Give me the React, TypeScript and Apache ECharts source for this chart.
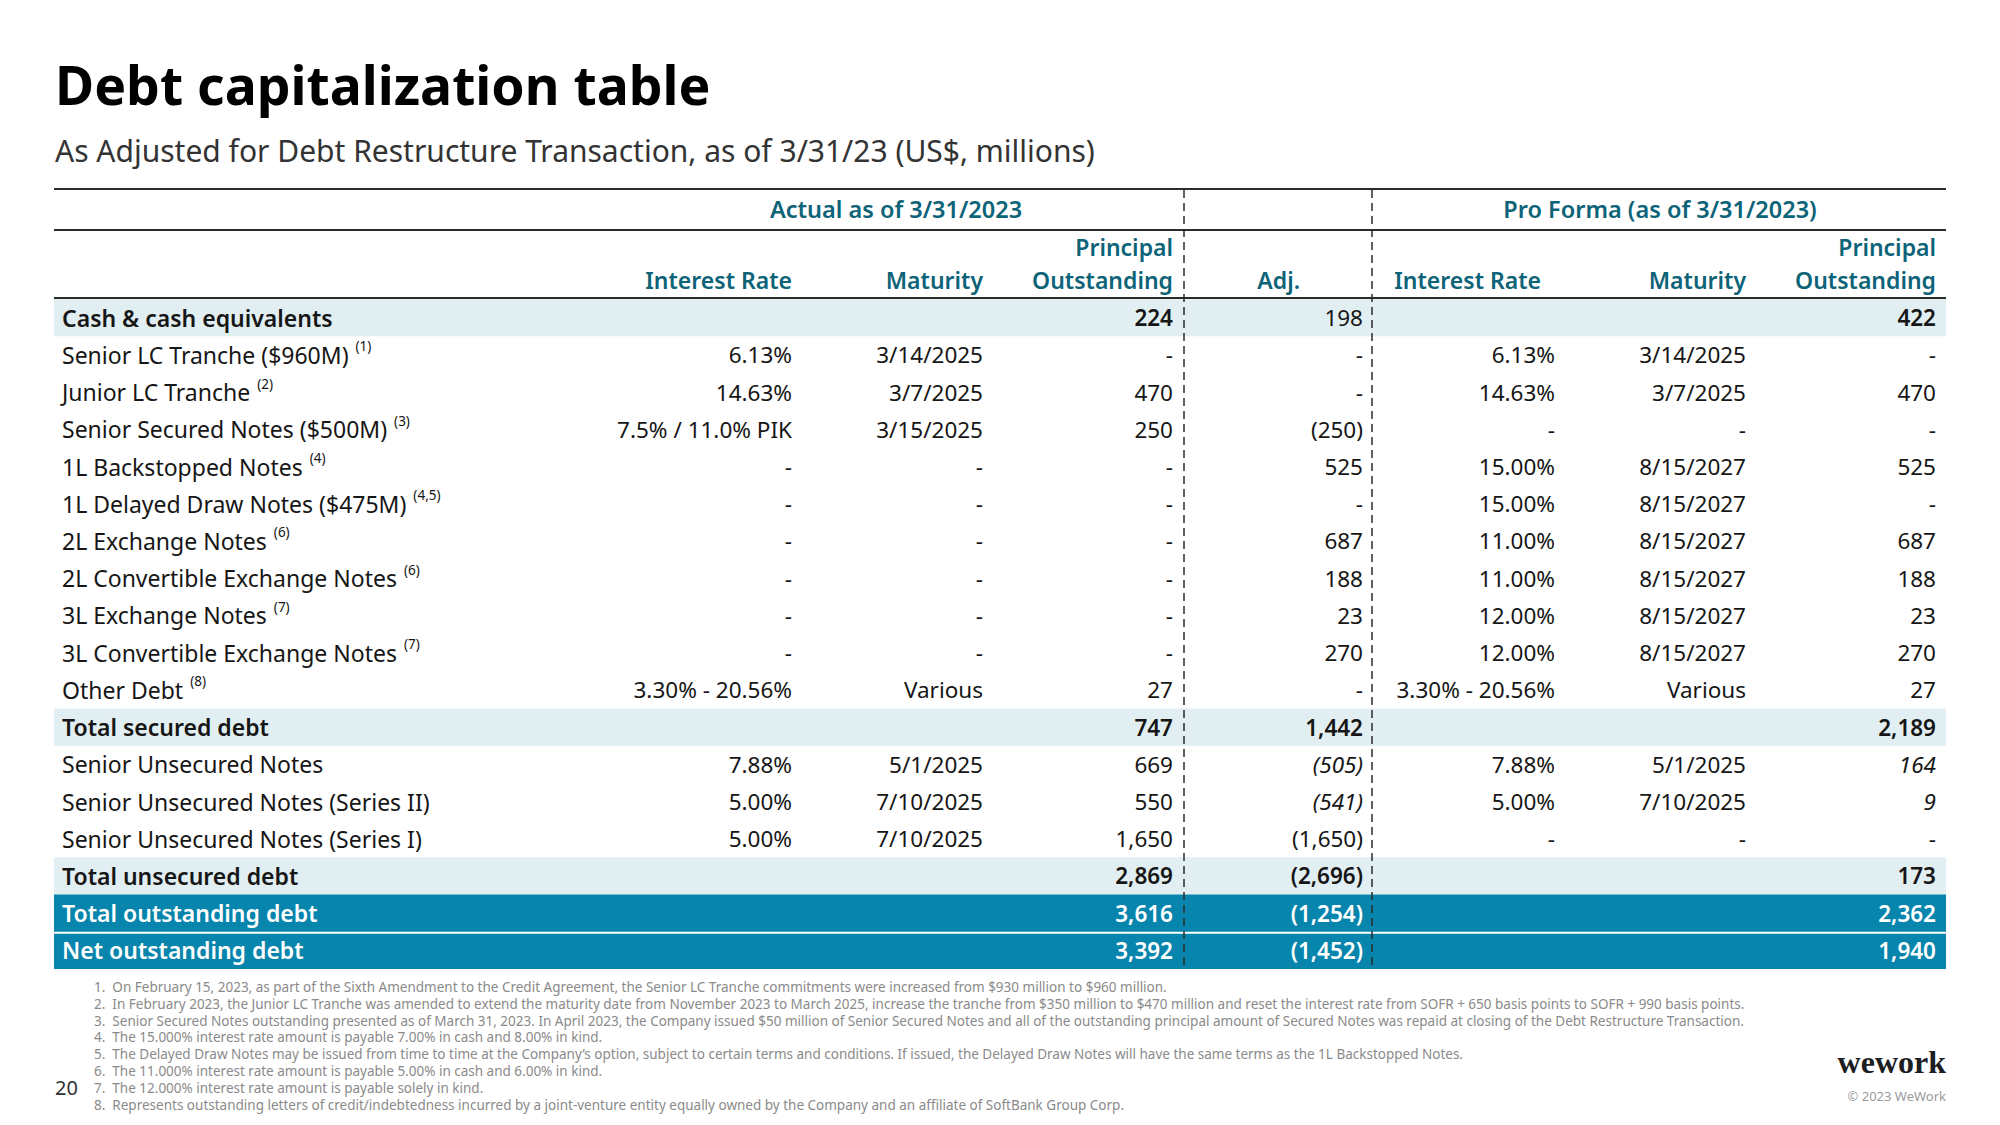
import React, { useEffect, useRef } from "react";
import * as echarts from "echarts";

// ---------------- data ----------------
const titleText = "Debt capitalization table";
const subtitleText = "As Adjusted for Debt Restructure Transaction, as of 3/31/23 (US$, millions)";
const groupHeaders = ["Actual as of 3/31/2023", "Pro Forma (as of 3/31/2023)"];

const rowLabels = [
  "Cash & cash equivalents",
  "Senior LC Tranche ($960M)",
  "Junior LC Tranche",
  "Senior Secured Notes ($500M)",
  "1L Backstopped Notes",
  "1L Delayed Draw Notes ($475M)",
  "2L Exchange Notes",
  "2L Convertible Exchange Notes",
  "3L Exchange Notes",
  "3L Convertible Exchange Notes",
  "Other Debt",
  "Total secured debt",
  "Senior Unsecured Notes",
  "Senior Unsecured Notes (Series II)",
  "Senior Unsecured Notes (Series I)",
  "Total unsecured debt",
  "Total outstanding debt",
  "Net outstanding debt",
];
const rowNotes = ["", "(1)", "(2)", "(3)", "(4)", "(4,5)", "(6)", "(6)", "(7)", "(7)", "(8)", "", "", "", "", "", "", ""];
// sub = subtotal (light band), item = plain row, total = dark band
const rowKinds = ["sub", "item", "item", "item", "item", "item", "item", "item", "item", "item", "item", "sub", "item", "item", "item", "sub", "total", "total"];

const actualRate = ["", "6.13%", "14.63%", "7.5% / 11.0% PIK", "-", "-", "-", "-", "-", "-", "3.30% - 20.56%", "", "7.88%", "5.00%", "5.00%", "", "", ""];
const actualMaturity = ["", "3/14/2025", "3/7/2025", "3/15/2025", "-", "-", "-", "-", "-", "-", "Various", "", "5/1/2025", "7/10/2025", "7/10/2025", "", "", ""];
const actualPrincipal: (number | null)[] = [224, null, 470, 250, null, null, null, null, null, null, 27, 747, 669, 550, 1650, 2869, 3616, 3392];
const adjustment: (number | null)[] = [198, null, null, -250, 525, null, 687, 188, 23, 270, null, 1442, -505, -541, -1650, -2696, -1254, -1452];
const proFormaRate = ["", "6.13%", "14.63%", "-", "15.00%", "15.00%", "11.00%", "11.00%", "12.00%", "12.00%", "3.30% - 20.56%", "", "7.88%", "5.00%", "-", "", "", ""];
const proFormaMaturity = ["", "3/14/2025", "3/7/2025", "-", "8/15/2027", "8/15/2027", "8/15/2027", "8/15/2027", "8/15/2027", "8/15/2027", "Various", "", "5/1/2025", "7/10/2025", "-", "", "", ""];
const proFormaPrincipal: (number | null)[] = [422, null, 470, null, 525, null, 687, 188, 23, 270, 27, 2189, 164, 9, null, 173, 2362, 1940];
const italicRows = [12, 13];

const footnotes = [
  "1.  On February 15, 2023, as part of the Sixth Amendment to the Credit Agreement, the Senior LC Tranche commitments were increased from $930 million to $960 million.",
  "2.  In February 2023, the Junior LC Tranche was amended to extend the maturity date from November 2023 to March 2025, increase the tranche from $350 million to $470 million and reset the interest rate from SOFR + 650 basis points to SOFR + 990 basis points.",
  "3.  Senior Secured Notes outstanding presented as of March 31, 2023. In April 2023, the Company issued $50 million of Senior Secured Notes and all of the outstanding principal amount of Secured Notes was repaid at closing of the Debt Restructure Transaction.",
  "4.  The 15.000% interest rate amount is payable 7.00% in cash and 8.00% in kind.",
  "5.  The Delayed Draw Notes may be issued from time to time at the Company\u2019s option, subject to certain terms and conditions. If issued, the Delayed Draw Notes will have the same terms as the 1L Backstopped Notes.",
  "6.  The 11.000% interest rate amount is payable 5.00% in cash and 6.00% in kind.",
  "7.  The 12.000% interest rate amount is payable solely in kind.",
  "8.  Represents outstanding letters of credit/indebtedness incurred by a joint-venture entity equally owned by the Company and an affiliate of SoftBank Group Corp.",
];
const pageNumber = "20";
const logoText = "wework";
const copyrightText = "\u00a9 2023 WeWork";

// ---------------- layout / style ----------------
const FONT = '"Noto Sans", sans-serif';
const TEAL = "#0d6378";
const DARK = "#0785ad";
const LIGHT = "#e2eff2";
const INK = "#161616";
const RULE = "#2b2b2b";

const TABLE_LEFT = 54;
const TABLE_RIGHT = 1946;
const TABLE_TOP = 299;
const TABLE_BOTTOM = 969;
const DASH_X = [1184, 1372];
const LABEL_SIZE = 23;
const VALUE_SIZE = 22.5;
const HEADER_SIZE = 23;

const fmt = (v: number | null) =>
  v === null ? "-" : v < 0 ? `(${Math.abs(v).toLocaleString("en-US")})` : v.toLocaleString("en-US");

type Col = { key: string; x: number; values: string[]; header: string[]; headerX: number };
const columns: Col[] = [
  { key: "aRate", x: 792, values: actualRate, header: ["", "Interest Rate"], headerX: 792 },
  { key: "aMat", x: 983, values: actualMaturity, header: ["", "Maturity"], headerX: 983 },
  { key: "aPrin", x: 1173, values: actualPrincipal.map(fmt), header: ["Principal", "Outstanding"], headerX: 1173 },
  { key: "adj", x: 1363, values: adjustment.map(fmt), header: ["", "Adj."], headerX: 1300 },
  { key: "pRate", x: 1555, values: proFormaRate, header: ["", "Interest Rate"], headerX: 1541 },
  { key: "pMat", x: 1746, values: proFormaMaturity, header: ["", "Maturity"], headerX: 1746 },
  { key: "pPrin", x: 1936, values: proFormaPrincipal.map(fmt), header: ["Principal", "Outstanding"], headerX: 1936 },
];

function buildOption(): any {
  const graphics: any[] = [];
  // title
  graphics.push({
    type: "text", x: 55, y: 84, z: 100,
    style: { text: titleText, fill: "#000", fontSize: 53.5, fontWeight: 700, fontFamily: FONT, verticalAlign: "middle" },
  });
  graphics.push({
    type: "text", x: 55, y: 150, z: 100,
    style: { text: subtitleText, fill: "#333", fontSize: 30, fontWeight: 400, fontFamily: FONT, verticalAlign: "middle" },
  });
  // rules
  [189, 230, 298].forEach((y) =>
    graphics.push({
      type: "line", z: 100,
      shape: { x1: TABLE_LEFT, y1: y, x2: TABLE_RIGHT, y2: y },
      style: { stroke: RULE, lineWidth: 2 },
    })
  );
  // dashed separators
  DASH_X.forEach((x) =>
    graphics.push({
      type: "line", z: 100,
      shape: { x1: x, y1: 190, x2: x, y2: TABLE_BOTTOM },
      style: { stroke: RULE, lineWidth: 1.5, lineDash: [8, 5] },
    })
  );
  // group headers
  const groupCenters = [896, 1660];
  groupHeaders.forEach((t, k) =>
    graphics.push({
      type: "text", x: groupCenters[k], y: 209, z: 100,
      style: { text: t, fill: TEAL, fontSize: 23.5, fontWeight: 600, fontFamily: FONT, align: "center", verticalAlign: "middle" },
    })
  );
  // column headers
  columns.forEach((c) =>
    c.header.forEach((t, k) => {
      if (!t) return;
      graphics.push({
        type: "text", x: c.headerX, y: k === 0 ? 247 : 280, z: 100,
        style: { text: t, fill: TEAL, fontSize: HEADER_SIZE, fontWeight: 600, fontFamily: FONT, align: "right", verticalAlign: "middle" },
      });
    })
  );
  // footnotes
  footnotes.forEach((t, k) =>
    graphics.push({
      type: "text", x: 94, y: 987 + k * 16.8, z: 100,
      style: { text: t, fill: "#8a8a8a", fontSize: 13.5, fontFamily: FONT, verticalAlign: "middle" },
    })
  );
  graphics.push({
    type: "text", x: 55, y: 1087, z: 100,
    style: { text: pageNumber, fill: "#333", fontSize: 20, fontFamily: FONT, verticalAlign: "middle" },
  });
  graphics.push({
    type: "text", x: 1946, y: 1062, z: 100,
    style: { text: logoText, fill: "#1d1d24", fontSize: 32, fontWeight: 700, fontFamily: '"Liberation Serif", serif', align: "right", verticalAlign: "middle" },
  });
  graphics.push({
    type: "text", x: 1946, y: 1096, z: 100,
    style: { text: copyrightText, fill: "#9a9a9a", fontSize: 13, fontFamily: FONT, align: "right", verticalAlign: "middle" },
  });

  return {
    animation: false,
    backgroundColor: "#ffffff",
    grid: { left: TABLE_LEFT, right: 2000 - TABLE_RIGHT, top: TABLE_TOP, bottom: 1125 - TABLE_BOTTOM, containLabel: false },
    xAxis: { type: "value", min: 0, max: 1, show: false },
    yAxis: { type: "category", data: rowLabels, inverse: true, show: false },
    graphic: graphics,
    series: [
      {
        type: "custom",
        coordinateSystem: "cartesian2d",
        encode: { x: 0, y: 1 },
        data: rowLabels.map((_, i) => [0, i]),
        z: 2,
        renderItem: (params: any, api: any) => {
          const i = api.value(1) as number;
          const cy = api.coord([0, i])[1];
          const band = api.size([0, 1])[1];
          const cs = params.coordSys;
          const kind = rowKinds[i];
          const children: any[] = [];
          if (kind !== "item") {
            const gap = kind === "total" && i > 0 && rowKinds[i - 1] === "total" ? 2 : 0;
            children.push({
              type: "rect",
              shape: { x: cs.x, y: cy - band / 2 + gap, width: cs.width, height: band - gap },
              style: { fill: kind === "total" ? DARK : LIGHT },
            });
          }
          const color = kind === "total" ? "#ffffff" : INK;
          const weight = kind === "item" ? 400 : 600;
          const note = rowNotes[i];
          children.push({
            type: "text",
            style: {
              text: note ? `{n|${rowLabels[i]}}{s|  ${note}}` : `{n|${rowLabels[i]}}`,
              x: 62,
              y: cy,
              verticalAlign: "middle",
              rich: {
                n: { fontSize: LABEL_SIZE, fontWeight: weight, fontFamily: FONT, fill: color, lineHeight: 31 },
                s: { fontSize: 13.5, fontFamily: FONT, fill: color, lineHeight: 14, verticalAlign: "top" },
              },
            },
          });
          columns.forEach((c) => {
            const t = c.values[i];
            if (!t) return;
            const bold = kind !== "item" && !(c.key === "adj" && i === 0);
            const italic = (c.key === "adj" || c.key === "pPrin") && italicRows.includes(i);
            children.push({
              type: "text",
              style: {
                text: t,
                x: c.x,
                y: cy,
                align: "right",
                verticalAlign: "middle",
                fill: color,
                fontSize: VALUE_SIZE,
                fontWeight: bold ? 600 : 400,
                fontStyle: italic ? "italic" : "normal",
                fontFamily: FONT,
              },
            });
          });
          return { type: "group", children };
        },
      },
    ],
  };
}

export default function App() {
  const ref = useRef<HTMLDivElement>(null);
  useEffect(() => {
    if (!ref.current) return;
    const chart = echarts.init(ref.current, undefined, { renderer: "svg" });
    chart.setOption(buildOption());
    return () => chart.dispose();
  }, []);
  return (
    <div
      ref={ref}
      style={{ position: "fixed", left: 0, top: 0, width: 2000, height: 1125, background: "#fff" }}
    />
  );
}
